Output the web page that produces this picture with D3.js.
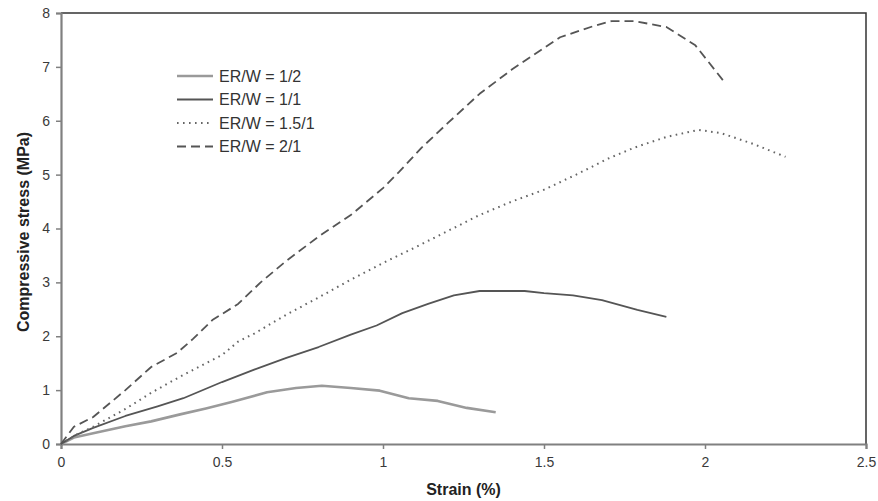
<!DOCTYPE html>
<html>
<head>
<meta charset="utf-8">
<script src="https://cdn.jsdelivr.net/npm/d3@7"></script>
<style>
  html, body { margin: 0; padding: 0; background: #fff; }
  svg { display: block; font-family: "Liberation Sans", Arial, sans-serif; }
</style>
</head>
<body>
<svg id="chart" width="878" height="501"></svg>
<script>
// Stress-strain curves for four ER/W ratios: [strain %, stress MPa]
const seriesNames = ["ER/W = 1/2", "ER/W = 1/1", "ER/W = 1.5/1", "ER/W = 2/1"];

const erw_1_2 = [[0,0],[0.04,0.12],[0.1,0.2],[0.2,0.33],[0.28,0.42],[0.37,0.55],[0.45,0.66],
  [0.53,0.78],[0.64,0.96],[0.73,1.04],[0.81,1.08],[0.9,1.04],[0.99,0.99],[1.08,0.85],
  [1.17,0.80],[1.26,0.67],[1.35,0.59]];

const erw_1_1 = [[0,0],[0.04,0.15],[0.1,0.3],[0.2,0.52],[0.3,0.7],[0.38,0.85],[0.5,1.15],
  [0.6,1.38],[0.7,1.6],[0.8,1.8],[0.9,2.03],[0.98,2.2],[1.06,2.43],[1.14,2.6],[1.22,2.76],
  [1.30,2.84],[1.44,2.84],[1.50,2.80],[1.59,2.76],[1.68,2.67],[1.79,2.49],[1.88,2.36]];

const erw_15_1 = [[0,0],[0.05,0.18],[0.1,0.32],[0.2,0.65],[0.28,0.95],[0.37,1.25],[0.45,1.5],
  [0.5,1.65],[0.55,1.9],[0.6,2.05],[0.7,2.4],[0.8,2.72],[0.9,3.05],[1.0,3.36],[1.1,3.65],
  [1.2,3.95],[1.3,4.25],[1.4,4.5],[1.5,4.72],[1.6,5.0],[1.7,5.3],[1.78,5.5],[1.88,5.7],
  [1.98,5.83],[2.05,5.77],[2.15,5.57],[2.25,5.33]];

const erw_2_1 = [[0,0],[0.04,0.32],[0.1,0.5],[0.2,1.0],[0.28,1.43],[0.36,1.69],[0.41,1.95],
  [0.47,2.3],[0.55,2.6],[0.62,3.0],[0.7,3.4],[0.8,3.85],[0.9,4.25],[1.0,4.75],[1.05,5.05],
  [1.12,5.5],[1.2,5.95],[1.3,6.5],[1.4,6.95],[1.5,7.35],[1.55,7.55],[1.65,7.75],[1.71,7.85],
  [1.78,7.85],[1.88,7.74],[1.97,7.4],[2.06,6.72]];

const xTicks = [0, 0.5, 1, 1.5, 2, 2.5];
const yTicks = [0, 1, 2, 3, 4, 5, 6, 7, 8];

const seriesData = [erw_1_2, erw_1_1, erw_15_1, erw_2_1];
const seriesStyle = [
  { stroke: "#9a9a9a", width: 2.6, dash: null },
  { stroke: "#555555", width: 1.8, dash: null },
  { stroke: "#666666", width: 2.0, dash: "1.6,4.4" },
  { stroke: "#555555", width: 1.8, dash: "9,5" }
];

const svg = d3.select("#chart");
const plot = { left: 61, right: 866, top: 13, bottom: 444 };

const x = d3.scaleLinear().domain([0, 2.5]).range([plot.left, plot.right]);
const y = d3.scaleLinear().domain([0, 8]).range([plot.bottom, plot.top]);

// frame: top and right edges
svg.append("path")
  .attr("d", `M${plot.left},${plot.top}H${plot.right}V${plot.bottom}`)
  .attr("fill", "none").attr("stroke", "#333").attr("stroke-width", 1.5);

// y axis
const yAxis = svg.append("g")
  .attr("transform", `translate(${plot.left},0)`)
  .call(d3.axisLeft(y).tickValues(yTicks).tickSize(5).tickPadding(6).tickFormat(d3.format("d")));
yAxis.select(".domain").attr("stroke", "#808080").attr("stroke-width", 2.2);
yAxis.selectAll(".tick line").attr("stroke", "#808080").attr("stroke-width", 1.5);
yAxis.selectAll(".tick text").attr("font-size", 14).attr("fill", "#3a3a3a")
  .attr("font-family", "Liberation Sans, Arial, sans-serif");

// x axis
const xAxis = svg.append("g")
  .attr("transform", `translate(0,${plot.bottom})`)
  .call(d3.axisBottom(x).tickValues(xTicks).tickSize(5).tickPadding(8).tickFormat(d => String(d)));
xAxis.select(".domain").attr("stroke", "#808080").attr("stroke-width", 2.2);
xAxis.selectAll(".tick line").attr("stroke", "#808080").attr("stroke-width", 1.5);
xAxis.selectAll(".tick text").attr("font-size", 14).attr("fill", "#3a3a3a")
  .attr("font-family", "Liberation Sans, Arial, sans-serif");

// curves
const line = d3.line().x(d => x(d[0])).y(d => y(d[1]));
seriesData.forEach((data, i) => {
  const s = seriesStyle[i];
  svg.append("path")
    .datum(data)
    .attr("d", line)
    .attr("fill", "none")
    .attr("stroke", s.stroke)
    .attr("stroke-width", s.width)
    .attr("stroke-linejoin", "round")
    .attr("stroke-dasharray", s.dash);
});

// legend
const legend = svg.append("g").attr("transform", "translate(177,76)");
seriesNames.forEach((name, i) => {
  const s = seriesStyle[i];
  const row = legend.append("g").attr("transform", `translate(0,${i * 23.5})`);
  row.append("line")
    .attr("x1", 0).attr("x2", 36).attr("y1", 0).attr("y2", 0)
    .attr("stroke", s.stroke).attr("stroke-width", s.width)
    .attr("stroke-dasharray", s.dash);
  row.append("text")
    .attr("x", 42).attr("y", 5.5)
    .attr("font-size", 16).attr("fill", "#333")
    .text(name);
});

// axis titles
svg.append("text")
  .attr("x", (plot.left + plot.right) / 2).attr("y", 495)
  .attr("text-anchor", "middle")
  .attr("font-size", 16).attr("font-weight", "bold").attr("fill", "#222")
  .text("Strain (%)");

svg.append("text")
  .attr("transform", `translate(29,232) rotate(-90)`)
  .attr("text-anchor", "middle")
  .attr("font-size", 16).attr("font-weight", "bold").attr("fill", "#222")
  .text("Compressive stress (MPa)");
</script>
</body>
</html>
